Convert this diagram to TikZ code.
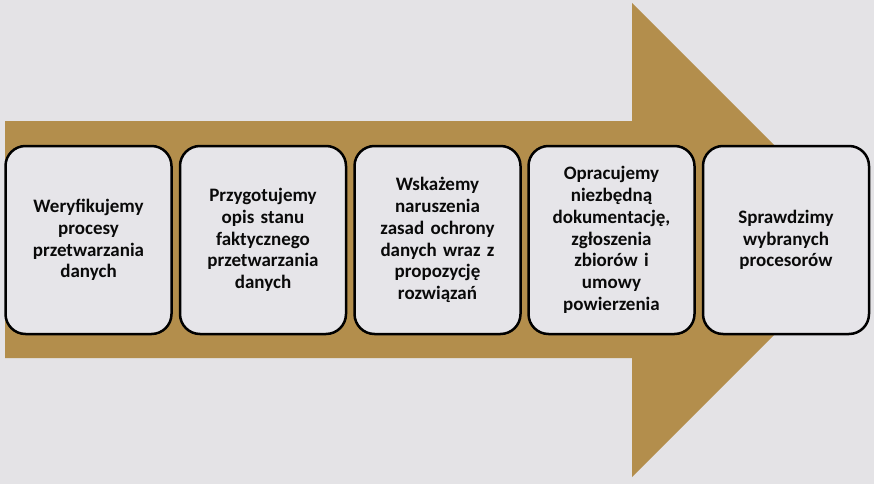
\documentclass[tikz,border=0pt]{standalone}
\usepackage{fontspec}
\setmainfont{Carlito}
\definecolor{bg}{HTML}{E4E3E6}
\definecolor{gold}{HTML}{B38E4C}
\definecolor{boxfill}{HTML}{E6E5E9}
\definecolor{txt}{HTML}{0A0A0A}
\tikzset{
  stepbox/.style={draw=black, line width=2.5pt, fill=boxfill, rounded corners=20pt,
    minimum width=165pt, minimum height=188pt, inner sep=4pt,
    align=center, text width=158pt, text=txt,
    font=\bfseries\fontsize{19pt}{21.8pt}\selectfont}
}
\begin{document}
\begin{tikzpicture}[x=1pt,y=-1pt]
\useasboundingbox (0,0) rectangle (874,484);
\fill[bg] (0,0) rectangle (874,484);
\fill[gold] (5,121) -- (632,121) -- (632,3) -- (869,240) -- (632,477) -- (632,358) -- (5,358) -- cycle;
\node[stepbox] (b1) at (88.5,240) {Weryfikujemy\\procesy\\przetwarzania\\danych};
\node[stepbox] (b2) at (263,240) {Przygotujemy\\opis stanu\\faktycznego\\przetwarzania\\danych};
\node[stepbox] (b3) at (437.5,240) {Wskażemy\\naruszenia\\zasad ochrony\\danych wraz z\\propozycję\\rozwiązań};
\node[stepbox] (b4) at (611.5,240) {Opracujemy\\niezbędną\\dokumentację,\\zgłoszenia\\zbiorów i\\umowy\\powierzenia};
\node[stepbox] (b5) at (786,240) {Sprawdzimy\\wybranych\\procesorów};
\end{tikzpicture}
\end{document}
